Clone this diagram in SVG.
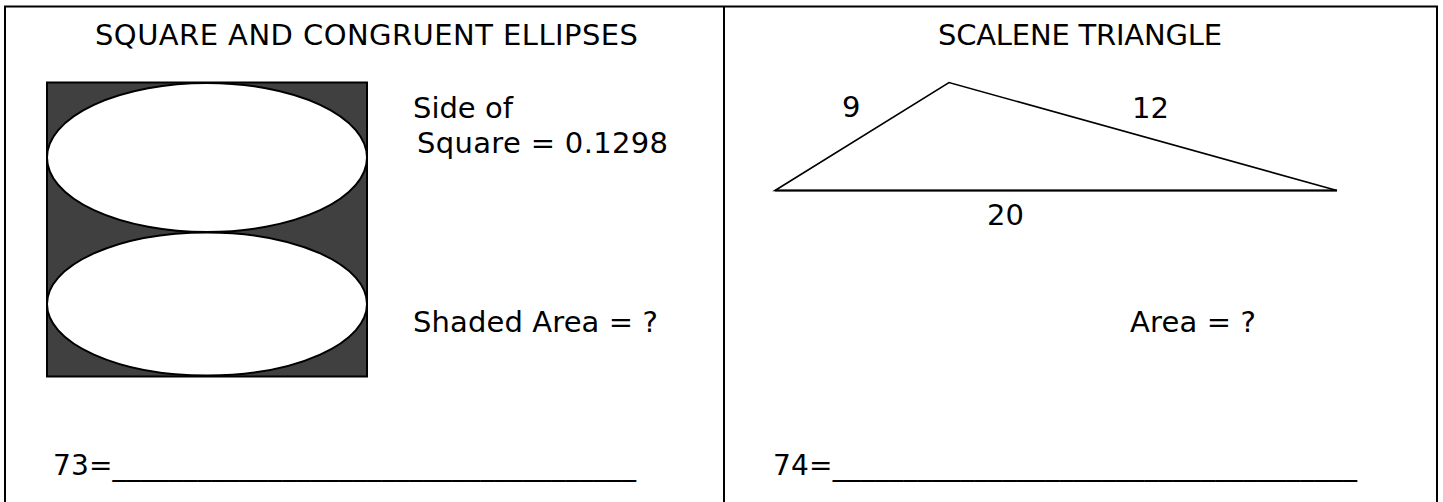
<svg xmlns="http://www.w3.org/2000/svg" width="1443" height="502" viewBox="0 0 1443 502">
<style>
.t{font-family:"DejaVu Sans","Verdana",sans-serif;font-size:29px;fill:#000}
.a{font-family:"DejaVu Sans","Verdana",sans-serif;font-size:28px;fill:#000}
.frame{fill:none;stroke:#000;stroke-width:2}
.shape{stroke:#000;stroke-width:2}
</style>
<rect width="1443" height="502" fill="#fff"/>
<g id="frame">
<path class="frame" d="M5 504 V6.5 H1437 V504 M724 6.5 V504"/>
</g>
<g id="left-panel">
<text class="t" x="95" y="45" textLength="543">SQUARE AND CONGRUENT ELLIPSES</text>
<rect class="shape" x="47" y="82.5" width="320" height="294" fill="#404040"/>
<ellipse class="shape" cx="207" cy="157.5" rx="160" ry="74.5" fill="#fff" stroke-width="1.5"/>
<ellipse class="shape" cx="207" cy="304" rx="160" ry="71.5" fill="#fff" stroke-width="1.5"/>
<text class="t" x="413" y="118">Side of</text>
<text class="t" x="417" y="153" textLength="251">Square = 0.1298</text>
<text class="t" x="413" y="332" textLength="245">Shaded Area = ?</text>
<text class="a" x="53" y="475" textLength="583">73=_____________________________________</text>
</g>
<g id="right-panel">
<text class="t" x="938" y="45" textLength="284">SCALENE TRIANGLE</text>
<path d="M775 190.5 L949 82.5 L1337 190.5 Z" fill="none" stroke="#000" stroke-width="1.6" stroke-linejoin="miter"/>
<line x1="775" y1="190.5" x2="1337" y2="190.5" stroke="#000" stroke-width="2.2"/>
<text class="t" x="842" y="117">9</text>
<text class="t" x="1132" y="118">12</text>
<text class="t" x="987" y="225">20</text>
<text class="t" x="1130" y="332" textLength="126">Area = ?</text>
<text class="a" x="773" y="475" textLength="584">74=_____________________________________</text>
</g>
</svg>
